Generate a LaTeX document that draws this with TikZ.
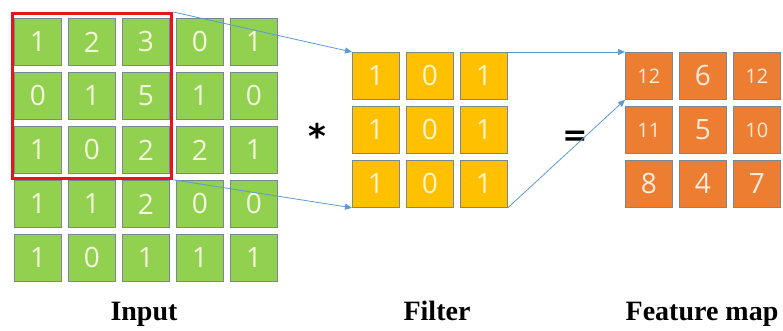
\documentclass[tikz,border=0pt]{standalone}
\usepackage{fontspec}
\setmainfont{Liberation Serif}
\newfontfamily\numfont{Open Sans}
\newfontfamily\opfont{DejaVu Sans}
\usetikzlibrary{arrows.meta,fit}
\definecolor{cellgreen}{HTML}{92D050}
\definecolor{cellyellow}{HTML}{FFC000}
\definecolor{cellorange}{HTML}{ED7D31}
\definecolor{cellborder}{HTML}{7A8794}
\definecolor{arrowblue}{HTML}{5B9BD5}
\definecolor{wingred}{HTML}{E8141C}
\definecolor{numgreen}{HTML}{F4F8DC}
\definecolor{numyellow}{HTML}{FFF4CC}
\definecolor{numorange}{HTML}{FDEBDC}
\begin{document}
\begin{tikzpicture}[x=1pt,y=-1pt,
  cell/.style={draw=cellborder, line width=0.8pt, minimum width=47pt,
    minimum height=47pt, inner sep=0pt, anchor=north west,
    font=\numfont\fontsize{28}{28}\selectfont},
  incell/.style={cell, fill=cellgreen, text=numgreen},
  fcell/.style={cell, fill=cellyellow, text=numyellow},
  ocell/.style={cell, fill=cellorange, text=numorange},
  small/.style={font=\numfont\fontsize{20}{20}\selectfont},
  flow/.style={draw=arrowblue, line width=0.8pt,
    -{Triangle[length=7pt,width=6pt]}},
  caption/.style={anchor=base, font=\fontsize{28}{28}\selectfont\bfseries}]
\fill[white] (0,0) rectangle (783,331);
\useasboundingbox (0,0) rectangle (783,331);

% input matrix 5x5
\foreach \row [count=\i] in {{1,2,3,0,1},{0,1,5,1,0},{1,0,2,2,1},{1,1,2,0,0},{1,0,1,1,1}}
  \foreach \v [count=\j] in \row
    \node[incell] (in\i\j) at ({14+54*(\j-1)},{18+54*(\i-1)}) {\v};

% receptive window
\node[draw=wingred, line width=3pt, inner xsep=2pt, inner ysep=4.5pt,
  fit=(in11)(in33)] (win) {};

% filter 3x3
\foreach \i in {1,2,3}
  \foreach \v [count=\j] in {1,0,1}
    \node[fcell] (f\i\j) at ({352+54*(\j-1)},{52+54*(\i-1)}) {\v};

% feature map 3x3
\node[ocell, small] (o11) at (625,52) {12};
\node[ocell] (o12) at (679,52) {6};
\node[ocell, small] (o13) at (733,52) {12};
\node[ocell, small] (o21) at (625,106) {11};
\node[ocell] (o22) at (679,106) {5};
\node[ocell, small] (o23) at (733,106) {10};
\node[ocell] (o31) at (625,160) {8};
\node[ocell] (o32) at (679,160) {4};
\node[ocell] (o33) at (733,160) {7};

% operators
\node (star) at (317,136) {\opfont\bfseries\fontsize{34}{34}\selectfont *};
\node (eq) at (575,138) {\opfont\bfseries\fontsize{30}{30}\selectfont =};

% connectors
\draw[flow] (win.north east) -- (f11.north west);
\draw[flow] (win.south east) -- (f31.south west);
\draw[flow] (f13.north east) -- (o11.north west);
\draw[flow] (f33.south east) -- (o11.south west);

% captions
\node[caption] (lin) at (144,320) {Input};
\node[caption] (lf) at (437,320) {Filter};
\node[caption] (lo) at (702,320) {Feature map};
\end{tikzpicture}
\end{document}
